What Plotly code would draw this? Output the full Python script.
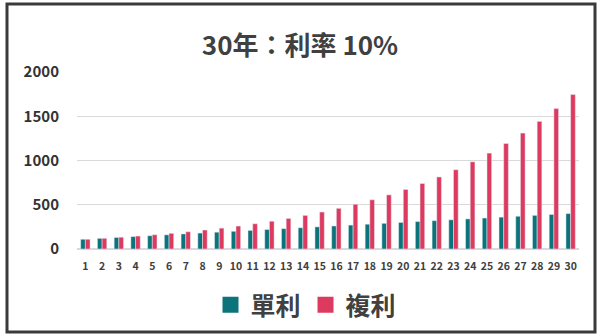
import plotly.graph_objects as go

# Years 1..30 and the balance of 100 invested at 10% per year
years = [str(i) for i in range(1, 31)]
simple_interest = [110, 120, 130, 140, 150, 160, 170, 180, 190, 200,
                   210, 220, 230, 240, 250, 260, 270, 280, 290, 300,
                   310, 320, 330, 340, 350, 360, 370, 380, 390, 400]
compound_interest = [110.00, 121.00, 133.10, 146.41, 161.05, 177.16, 194.87, 214.36, 235.79, 259.37,
                     285.31, 313.84, 345.23, 379.75, 417.72, 459.50, 505.45, 555.99, 611.59, 672.75,
                     740.02, 814.03, 895.43, 984.97, 1083.47, 1191.82, 1310.00, 1442.03, 1586.23, 1744.94]
y_ticks = [0, 500, 1000, 1500, 2000]

TEAL = "#0b737a"
RED = "#dc3a5e"
TEXT = "#404040"
FONT = "Noto Sans CJK TC"

W, H = 600, 336
ML, MR, MT, MB = 77, 21, 72, 87

fig = go.Figure()
fig.add_trace(go.Bar(name="單利", x=years, y=simple_interest, marker_color=TEAL,
                     showlegend=False))
fig.add_trace(go.Bar(name="複利", x=years, y=compound_interest, marker_color=RED,
                     showlegend=False))

# Legend entries with large square swatches
for name, col in (("單利", TEAL), ("複利", RED)):
    fig.add_trace(go.Scatter(name=name, x=[None], y=[None], mode="markers",
                             marker=dict(symbol="square", size=16, color=col)))

pw = W - ML - MR
ph = H - MT - MB


def px_x(p):
    return (p - ML) / pw


def px_y(p):
    return (H - MB - p) / ph


fig.update_layout(
    width=W, height=H,
    margin=dict(l=ML, r=MR, t=MT, b=MB, autoexpand=False),
    paper_bgcolor="white", plot_bgcolor="white",
    font=dict(family=FONT, color=TEXT),
    barmode="group", bargap=0.44, bargroupgap=0.0,
    title=dict(text="30年：利率 10%", x=0.5, xanchor="center", y=1 - 46 / H, yanchor="middle",
               font=dict(size=26, family=FONT, color=TEXT, weight="bold")),
    xaxis=dict(type="category", showgrid=False, showline=True, linecolor="#d9d9d9",
               ticks="", tickfont=dict(size=10.5, color=TEXT, weight="bold"), ticklabelstandoff=7),
    yaxis=dict(range=[0, 2000], tickvals=y_ticks, showgrid=True, gridcolor="#d9d9d9",
               zeroline=True, zerolinecolor="#d9d9d9", ticks="",
               tickfont=dict(size=15, color="#333333", weight="bold"), ticklabelstandoff=17),
    legend=dict(orientation="h", x=px_x(306), xanchor="center", y=px_y(305), yanchor="middle",
                font=dict(size=25, family=FONT, color=TEXT, weight="bold"),
                itemsizing="trace", bgcolor="rgba(0,0,0,0)"),
    shapes=[dict(type="rect", xref="paper", yref="paper",
                 x0=px_x(7), x1=px_x(595), y0=px_y(332), y1=px_y(4),
                 line=dict(color="#3a3a3a", width=3), layer="below")],
)

fig.write_html("out.html")
